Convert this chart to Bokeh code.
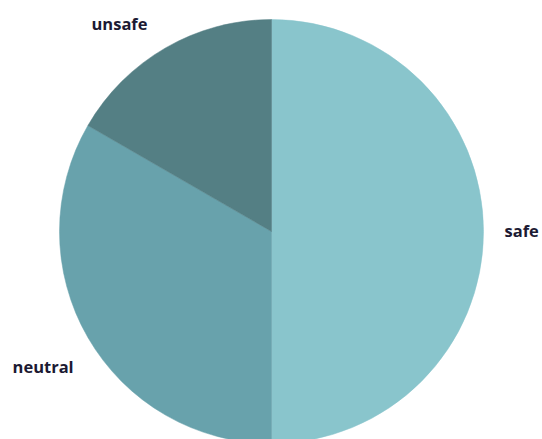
import math
from bokeh.plotting import figure
from bokeh.models import ColumnDataSource, Range1d
from bokeh.core.properties import value
from bokeh.embed import file_html
from bokeh.resources import INLINE

categories = ["safe", "neutral", "unsafe"]
counts = [3, 2, 1]
colors = ["#89C5CC", "#68A2AC", "#547F84"]

W, H = 542, 439
cx, cy = 271, H - 231
R = 212
LR = 240
# small per-label pixel nudges (layout only)
nudge = {"safe": (-7, 1), "neutral": (10, -15), "unsafe": (-4, 0)}

total = float(sum(counts))
starts, ends, lx, ly, aligns = [], [], [], [], []
a = math.pi / 2
for cat, c in zip(categories, counts):
    span = 2 * math.pi * c / total
    s, e = a, a - span
    starts.append(s)
    ends.append(e)
    mid = (s + e) / 2
    ndx, ndy = nudge.get(cat, (0, 0))
    lx.append(cx + LR * math.cos(mid) + ndx)
    ly.append(cy + LR * math.sin(mid) + ndy)
    aligns.append("left" if math.cos(mid) > 0 else "right")
    a = e

src = ColumnDataSource(dict(cat=categories, start=starts, end=ends, color=colors,
                            lx=lx, ly=ly, align=aligns))

p = figure(width=W, height=H, output_backend="svg", toolbar_location=None,
           x_range=Range1d(0, W), y_range=Range1d(0, H), min_border=0,
           match_aspect=False)
p.axis.visible = False
p.grid.visible = False
p.outline_line_color = None
p.background_fill_color = "white"
p.border_fill_color = "white"

p.wedge(x=cx, y=cy, radius=R, start_angle="start", end_angle="end",
        direction="clock", fill_color="color", line_color="color",
        line_width=0.5, source=src)

p.text(x="lx", y="ly", text="cat", text_align="align", text_baseline="middle",
       text_font=value("Open Sans"), text_font_style="bold",
       text_font_size="16.5px", text_color="#1C1A33", source=src)

open("out.html", "w").write(file_html(p, INLINE))
